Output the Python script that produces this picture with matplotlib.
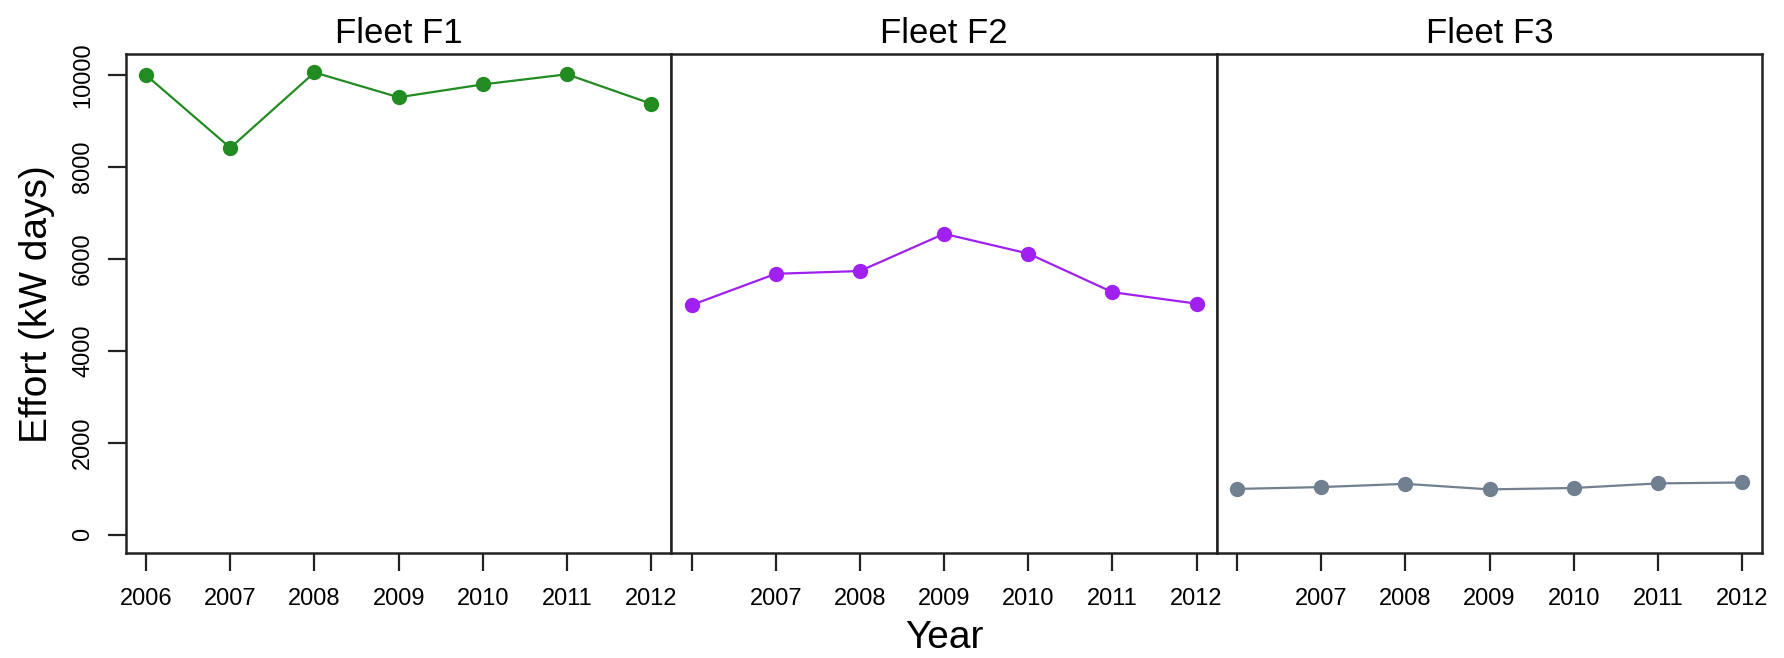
import numpy as np
import matplotlib
matplotlib.use("Agg")
import matplotlib.pyplot as plt

plt.rcParams["font.family"] = ["Liberation Sans", "DejaVu Sans"]

# ---- Data ----------------------------------------------------------------
years = [2006, 2007, 2008, 2009, 2010, 2011, 2012]
fleets = ["Fleet F1", "Fleet F2", "Fleet F3"]

effort_f1 = [10000, 8420, 10060, 9520, 9800, 10020, 9380]
effort_f2 = [5000, 5680, 5740, 6550, 6120, 5280, 5030]
effort_f3 = [1000, 1040, 1110, 990, 1020, 1120, 1140]

colours = ["#228B22", "#A020F0", "#708090"]
y_ticks = [0, 2000, 4000, 6000, 8000, 10000]

series = [effort_f1, effort_f2, effort_f3]

# shared y range: 0..max with R-style 4% padding
ymax = max(max(s) for s in series)
pad = 0.04 * ymax
xpad = 0.04 * (years[-1] - years[0])

fig, axes = plt.subplots(1, 3, figsize=(17.84, 6.58), dpi=100, sharey=True)
fig.subplots_adjust(left=0.0706, right=0.9878, bottom=0.159, top=0.918, wspace=0)

for i, (ax, name, vals, col) in enumerate(zip(axes, fleets, series, colours)):
    ax.plot(years, vals, color=col, lw=1.6, marker="o", ms=10, mec=col, mfc=col)
    ax.set_xlim(years[0] - xpad, years[-1] + xpad)
    ax.set_ylim(-pad, ymax + pad)
    ax.set_title(name, fontsize=25, pad=8)
    ax.set_xticks(years)
    if i == 0:
        ax.set_xticklabels([str(y) for y in years])
    else:
        # first label dropped where it would collide with the previous panel
        ax.set_xticklabels([""] + [str(y) for y in years[1:]])
    ax.tick_params(axis="x", length=13, width=1.6, labelsize=17, pad=12,
                   color="#222222")
    for sp in ax.spines.values():
        sp.set_linewidth(1.8)
        sp.set_color("#222222")
    if i == 0:
        ax.set_yticks(y_ticks)
        ax.set_yticklabels([str(v) for v in y_ticks], rotation=90, va="center")
        ax.tick_params(axis="y", length=13, width=1.6, labelsize=17, pad=10,
                       color="#222222")
        ax.set_ylabel("Effort (kW days)", fontsize=28, labelpad=12)
    else:
        ax.tick_params(axis="y", left=False, labelleft=False)

fig.text(0.5 * (0.0706 + 0.9878), 0.03, "Year", ha="center", va="center", fontsize=28)

fig.savefig("out.png", dpi=100)
